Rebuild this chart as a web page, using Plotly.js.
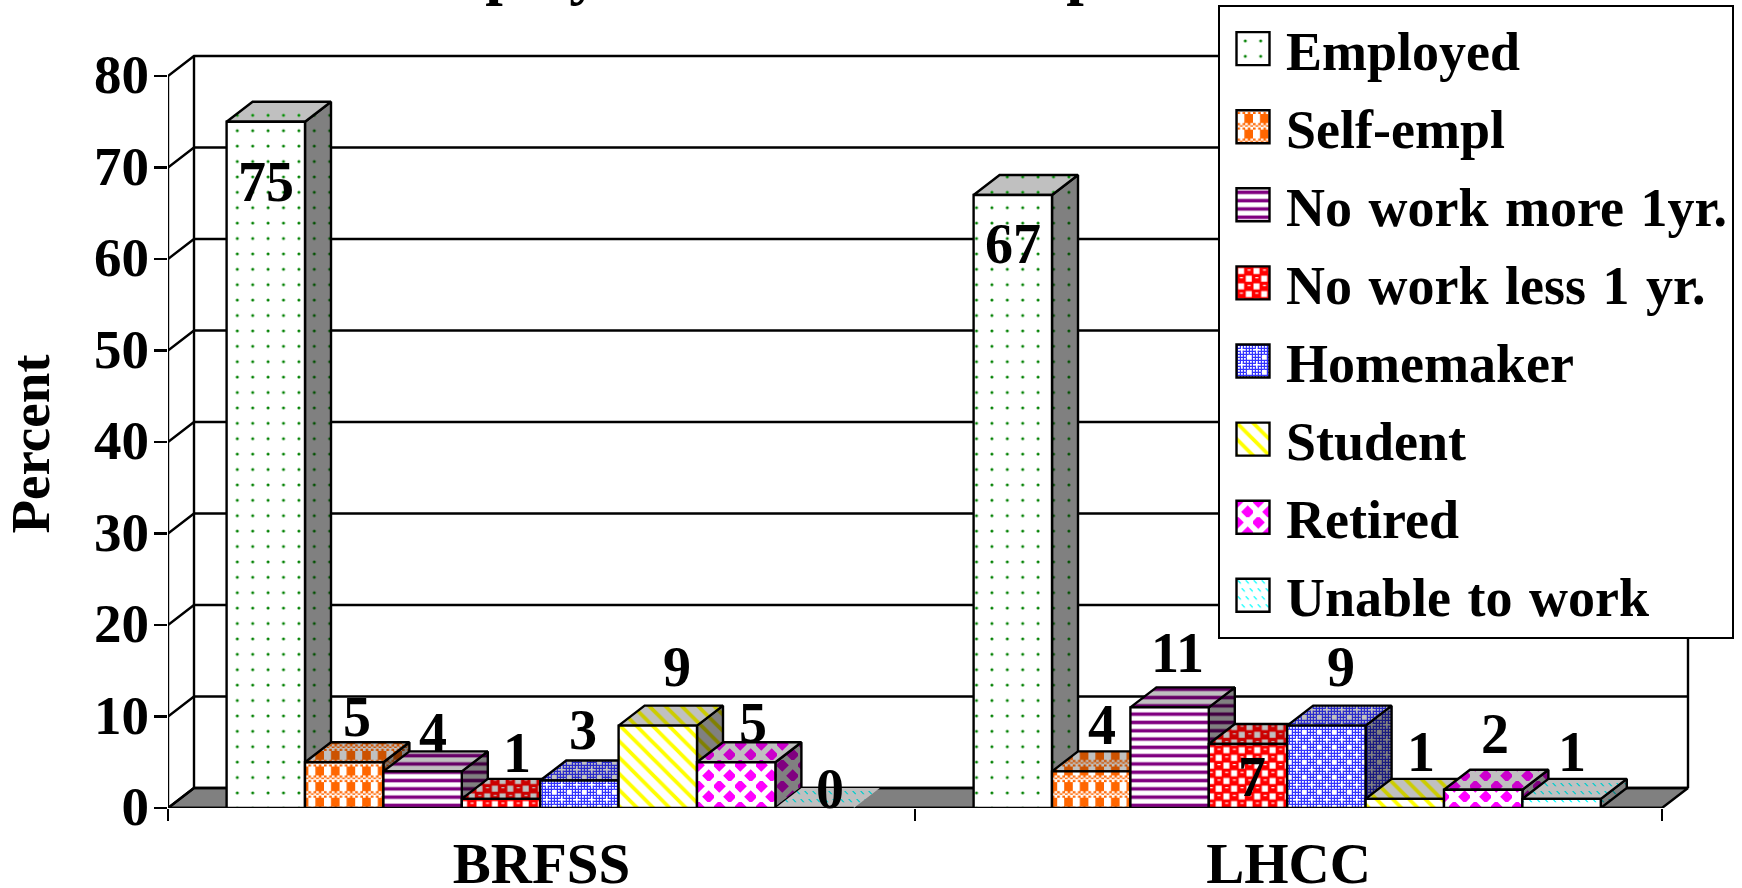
<!DOCTYPE html>
<html>
<head>
<meta charset="utf-8">
<script src="https://cdn.plot.ly/plotly-3.0.1.min.js"></script>
<style>
html,body{margin:0;padding:0;background:#fff;}
#chart{width:1742px;height:888px;}
.ytitle{translate:0 17px;}
.gtitle{translate:0 -11px;}
.ytick text{translate:0 -2px;}
.legendtext{word-spacing:3px;}
</style>
</head>
<body>
<div id="chart"></div>
<script>
const groups = ['BRFSS', 'LHCC'];
const seriesNames = ['Employed', 'Self-empl', 'No work more 1yr.', 'No work less 1 yr.', 'Homemaker', 'Student', 'Retired', 'Unable to work'];
const employed = [75, 67];
const selfEmpl = [5, 4];
const noWorkMore = [4, 11];
const noWorkLess = [1, 7];
const homemaker = [3, 9];
const student = [9, 1];
const retired = [5, 2];
const unable = [0, 1];
const allSeries = [employed, selfEmpl, noWorkMore, noWorkLess, homemaker, student, retired, unable];
const yTicks = [0, 10, 20, 30, 40, 50, 60, 70, 80];

// ---- geometry (pixel scale of the plot) ----
const PL = 168, PR = 1698, PT = 46, PB = 808;
const pxPerGroup = 747, pxPerUnit = 9.15;
const depthX = 26 / pxPerGroup, depthY = 20 / pxPerUnit;
const xRange = [-0.5, -0.5 + (PR - PL) / pxPerGroup];
const yRange = [0, (PB - PT) / pxPerUnit];
const barW = 78.4 / pxPerGroup;
const groupShift = -1.3 / pxPerGroup;
const SERIF = 'Liberation Serif, Times New Roman, serif';

// ---- pattern helpers ----
const rect = (x, y, w, h) => `M${x},${y}h${w}v${h}h${-w}z`;
function plaidPath() {
  const s = 15.6;
  let d = rect(7, 3, 8.6, 9);
  for (let i = 0; i < 6; i++) for (let j = 0; j < 3; j++) {
    if ((i + j) % 2 === 0) d += rect(i * 2.6, (12 + j * 2.2) % s, 2.6, 2.2);
  }
  return d;
}
function checkerPath() {
  return rect(0.5, 0.5, 6, 6) + rect(8.2, 8.2, 6, 6) + rect(10, 2, 3, 1.2) + rect(2.3, 9.7, 3, 1.2);
}
function diamondPath() {
  const s = 21, r = 6.6;
  const dm = (cx, cy) => `M${cx},${cy - r}L${cx + r},${cy}L${cx},${cy + r}L${cx - r},${cy}Z`;
  return dm(s / 4, s / 4) + dm(3 * s / 4, 3 * s / 4);
}
function dashPath() {
  let d = '';
  [[0, 1], [8, 1], [4, 9], [12, 9]].forEach(p => {
    d += `M${p[0]},${p[1]}l1.6,0l3,3.2l-1.6,0z`;
  });
  return d;
}
function homePath() {
  let d = '';
  for (let i = 0; i < 5; i++) for (let j = 0; j < 5; j++) d += rect(i * 3, j * 3, 1.8, 1.8);
  const plus = (x, y) => rect(x - 0.8, y - 2.5, 1.6, 5) + rect(x - 2.5, y - 0.8, 5, 1.6);
  return d + plus(3.75, 3.75) + plus(11.25, 11.25);
}

const patterns = [
  {shape: '.', size: 15.4, solidity: 0.03, fg: '#008000', top: '#009000', side: '#005000', bg: '#ffffff'},
  {path: plaidPath(), size: 15.6, solidity: 1, fg: '#ff6600', top: '#cc5200', side: '#803300', bg: '#ffffff'},
  {shape: '-', size: 8.3, solidity: 0.42, fg: '#800080', top: '#660066', side: '#400040', bg: '#ffffff'},
  {path: checkerPath(), size: 15.4, solidity: 1, fg: '#ffffff', top: '#c0c0c0', side: '#808080', bg: '#ff0000', bgTop: '#cc0000', bgSide: '#800000'},
  {path: homePath(), size: 15, solidity: 1, fg: '#ffffff', top: '#c0c0c0', side: '#808080', bg: '#3333ff', bgTop: '#2a2acc', bgSide: '#1a1a80'},
  {shape: '\\', size: 11.5, solidity: 0.33, fg: '#ffff00', top: '#cccc00', side: '#808000', bg: '#ffffff'},
  {path: diamondPath(), size: 21, solidity: 1, fg: '#ff00ff', top: '#cc00cc', side: '#800080', bg: '#ffffff'},
  {path: dashPath(), size: 16, solidity: 1, fg: '#00ffff', top: '#00cccc', side: '#008080', bg: '#ffffff'}
];
function pat(p, fg, bg) {
  const o = {size: p.size, solidity: p.solidity, fgcolor: fg, bgcolor: bg, fillmode: 'replace', fgopacity: 1};
  if (p.path) o.path = p.path; else o.shape = p.shape;
  return o;
}

// ---- label nudges in pixels, relative to the top of each bar's front ----
const labelNudgeX = [[0, 13, 10, 16, 4, 19, 17, 15], [0, 11, 8, 4, 15, 16, 12, 10]];
const labelNudgeY = [[-60, 45, 38, 46, 51, 59, 39, 19], [-49, 46, 54, -33, 59, 47, 56, 47]];

const traces = [];
const lineBlack = {color: '#000000', width: 2.4};
function poly(xs, ys, extra) {
  traces.push(Object.assign({
    type: 'scatter', mode: 'lines', x: xs, y: ys, xaxis: 'x', yaxis: 'y', showlegend: false,
    hoverinfo: 'skip', line: lineBlack, cliponaxis: false
  }, extra));
}

// floor
const xA = xRange[0], xB = xA + (1662 - PL) / pxPerGroup;
poly([xA, xA + depthX, xB + depthX, xB, xA], [0, depthY, depthY, 0, 0],
  {fill: 'toself', fillcolor: '#808080', name: 'floor'});
// gridlines on both walls
yTicks.forEach(v => {
  poly([xA, xA + depthX, xB + depthX], [v, v + depthY, v + depthY], {name: 'grid'});
});
// wall edges and axis lines
poly([xA + depthX, xA + depthX], [depthY, 80 + depthY], {name: 'back-left'});
poly([xB + depthX, xB + depthX], [depthY, 80 + depthY], {name: 'back-right'});
poly([xA, xA], [0, 80], {name: 'y-axis'});
poly([xA, xB], [0, 0], {name: 'x-axis'});

// side and top faces, drawn left to right
groups.forEach((g, gi) => {
  allSeries.forEach((vals, si) => {
    const v = vals[gi], p = patterns[si];
    const xl = gi - 4 * barW + groupShift + si * barW, xr = xl + barW;
    const ln = v === 0 ? {color: 'rgba(0,0,0,0)', width: 0} : lineBlack;
    if (v > 0) {
      poly([xr, xr + depthX, xr + depthX, xr, xr], [v, v + depthY, depthY, 0, v], {
        fill: 'toself', fillcolor: '#808080', name: seriesNames[si] + ' side',
        fillpattern: pat(p, p.side, p.bgSide || '#808080'), line: ln
      });
    }
    poly([xl, xl + depthX, xr + depthX, xr, xl], [v, v + depthY, v + depthY, v, v], {
      fill: 'toself', fillcolor: '#c0c0c0', name: seriesNames[si] + ' top',
      fillpattern: pat(p, p.top, p.bgTop || '#c0c0c0'), line: ln
    });
  });
});

// front faces: the actual bars, on an overlay subplot above the depth faces
allSeries.forEach((vals, si) => {
  const p = patterns[si];
  traces.push({
    type: 'bar', name: seriesNames[si], x: groups, y: vals, xaxis: 'x2', yaxis: 'y2',
    width: barW, offset: -4 * barW + groupShift + si * barW, legendgroup: 'g' + si,
    cliponaxis: false,
    marker: {color: p.bg, line: {color: '#000000', width: 2.4}, pattern: pat(p, p.fg, p.bg)}
  });
});

// value labels
const annotations = [];
groups.forEach((g, gi) => {
  allSeries.forEach((vals, si) => {
    const xl = gi - 4 * barW + groupShift + si * barW;
    annotations.push({
      xref: 'x', yref: 'y', x: xl + barW / 2, y: vals[gi], text: String(vals[gi]),
      showarrow: false, xanchor: 'center', yanchor: 'middle',
      xshift: labelNudgeX[gi][si], yshift: labelNudgeY[gi][si],
      font: {family: SERIF, size: 56, color: '#000000', weight: 700}
    });
  });
});

const layout = {
  width: 1742, height: 888,
  margin: {l: PL, r: 1742 - PR, t: PT, b: 888 - PB, autoexpand: false},
  paper_bgcolor: '#ffffff', plot_bgcolor: '#ffffff',
  title: {
    text: 'Employment Status Comparison', x: 0.4765, xref: 'container', xanchor: 'center',
    y: 0.9966, yref: 'container', yanchor: 'bottom',
    font: {family: SERIF, size: 63, color: '#000000', weight: 700}
  },
  barmode: 'overlay', showlegend: true, hovermode: false,
  xaxis: {type: 'linear', range: xRange, visible: false, fixedrange: true},
  yaxis: {
    range: yRange, tickmode: 'array', tickvals: yTicks, ticks: 'outside', ticklen: 13, tickwidth: 2.4,
    tickcolor: '#000000', showgrid: false, zeroline: false, showline: false, fixedrange: true,
    ticklabelstandoff: -6,
    tickfont: {family: SERIF, size: 55, color: '#000000', weight: 700},
    title: {text: 'Percent', standoff: 32, font: {family: SERIF, size: 55, color: '#000000', weight: 700}}
  },
  xaxis2: {
    type: 'category', overlaying: 'x', anchor: 'y2', side: 'bottom', range: xRange,
    categoryorder: 'array', categoryarray: groups, tickson: 'boundaries', ticks: 'outside', ticklen: 12,
    tickwidth: 2.4, tickcolor: '#000000', showgrid: false, zeroline: false, showline: false, fixedrange: true,
    ticklabelstandoff: 17,
    tickfont: {family: SERIF, size: 57, color: '#000000', weight: 700}
  },
  yaxis2: {overlaying: 'y', anchor: 'x2', range: yRange, visible: false, fixedrange: true},
  legend: {
    x: (1218 - PL) / (PR - PL), xanchor: 'left', y: (PB - 5) / (PB - PT), yanchor: 'top',
    bgcolor: '#ffffff', bordercolor: '#000000', borderwidth: 2, maxheight: 800, entrywidth: 462,
    itemwidth: 56, tracegroupgap: 4.9, itemclick: false, itemdoubleclick: false,
    font: {family: SERIF, size: 54, color: '#000000', weight: 700}
  },
  annotations: annotations
};
Plotly.newPlot('chart', traces, layout, {displayModeBar: false, staticPlot: true}).then(gd => {
  // Enlarge the legend swatches and give them the same pattern tiles as their bars.
  const barTraces = gd.querySelectorAll('.barlayer .trace');
  gd.querySelectorAll('.legend .legendpoints path').forEach((el, i) => {
    el.setAttribute('d', 'M16.5,16.5H-16.5V-16.5H16.5Z');
    const barPaths = barTraces[i] ? barTraces[i].querySelectorAll('path') : [];
    for (const bp of barPaths) {
      if (bp.style.fill && bp.style.fill.indexOf('url') === 0) { el.style.fill = bp.style.fill; break; }
    }
  });
});
</script>
</body>
</html>
